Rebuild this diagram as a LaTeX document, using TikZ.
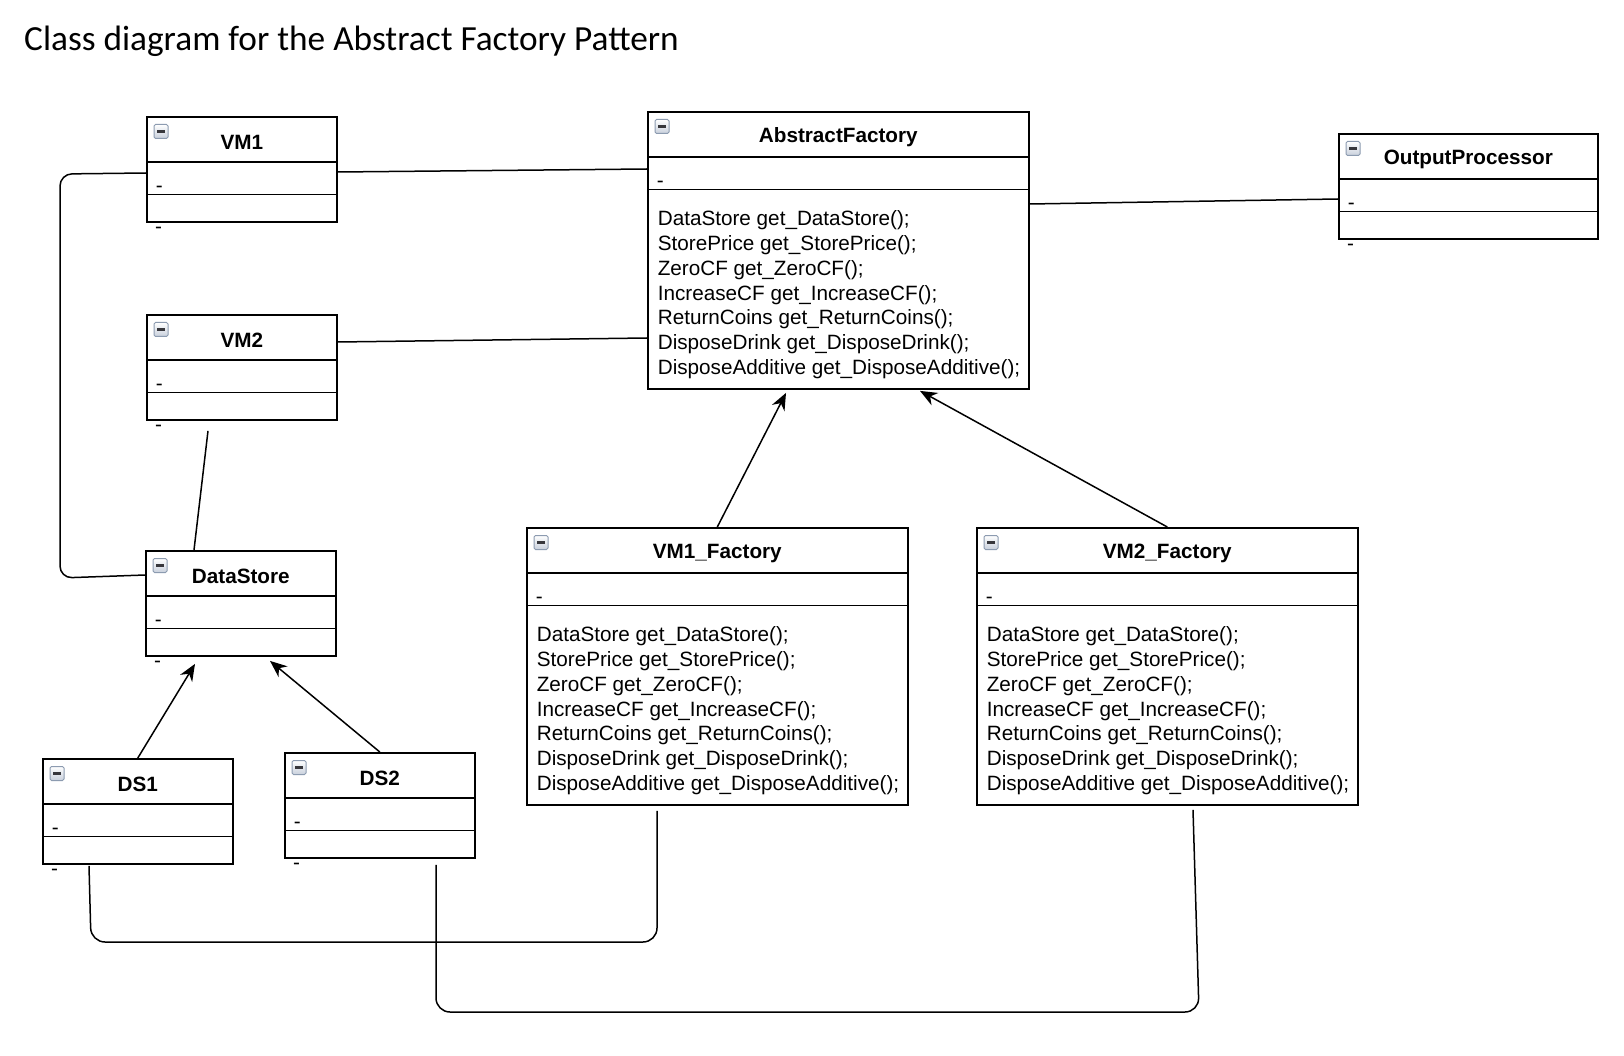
\documentclass[tikz,border=0pt]{standalone}
\usepackage{fontspec}
\setmainfont{Liberation Sans}
\newfontfamily\titlefont{Carlito}
\usepackage{tikz}
\usetikzlibrary{shapes, arrows.meta, positioning, calc}
\definecolor{iconedge}{RGB}{140,155,176}
\definecolor{iconfill}{RGB}{200,208,220}
\definecolor{iconbar}{RGB}{55,55,60}
\newcommand{\clshead}[2]{\parbox[c][43.5pt][c]{#1}{\centering\vspace*{6pt}\textbf{#2}}}
\newcommand{\clsattr}[1]{\parbox[c][29.5pt][b]{#1}{\hspace*{9pt}-\rule[-1.5pt]{0pt}{1pt}}}
\newcommand{\clsempty}[1]{\parbox[c][26pt][c]{#1}{}}
\newcommand{\clsops}[1]{\parbox[c][198pt][t]{381pt}{\raggedright\leftskip=10pt\vspace*{18pt}\strut #1}}
\newcommand{\factoryops}{DataStore get\_DataStore();\\StorePrice get\_StorePrice();\\ZeroCF get\_ZeroCF();\\IncreaseCF get\_IncreaseCF();\\ReturnCoins get\_ReturnCoins();\\DisposeDrink get\_DisposeDrink();\\DisposeAdditive get\_DisposeAdditive();}
\tikzstyle{umlclass} = [draw=black, line width=1.6pt, rectangle split, rectangle split parts=3, inner sep=0pt, anchor=north west, font=\fontsize{20.7}{24.8}\selectfont]
\tikzstyle{dashmark} = [inner sep=0pt, anchor=base west, font=\fontsize{20.7}{24.8}\selectfont]
\tikzstyle{assoc} = [line width=1.5pt, draw=black]
\tikzstyle{inherit} = [line width=1.5pt, draw=black, -{Stealth[length=17pt, width=14pt]}]
\tikzstyle{iconbox} = [draw=iconedge, line width=1pt, top color=white, bottom color=iconfill, rounded corners=1.5pt]
\tikzstyle{iconline} = [draw=iconbar, line width=2.5pt]
\newcommand{\collapseicon}[1]{%
	\draw[iconbox] ($(#1.north west)+(8,8.5)$) rectangle +(14,14);
	\draw[iconline] ($(#1.north west)+(11,15.5)$) -- +(8,0);}

\begin{document}
\begin{tikzpicture}[x=1pt, y=-1pt]
	\path[fill=white, use as bounding box] (0,0) rectangle (1624,1056);
	\node[anchor=base west, inner sep=0pt, font=\titlefont\fontsize{35.3}{40}\selectfont] (title) at (24,51) {Class diagram for the Abstract Factory Pattern};

	\node[umlclass] (vm1) at (146,116) {\clshead{190pt}{VM1}\nodepart{two}\clsattr{190pt}\nodepart{three}\clsempty{190pt}};
	\node[umlclass] (vm2) at (146,314) {\clshead{190pt}{VM2}\nodepart{two}\clsattr{190pt}\nodepart{three}\clsempty{190pt}};
	\node[umlclass] (ds) at (145,550) {\clshead{190pt}{DataStore}\nodepart{two}\clsattr{190pt}\nodepart{three}\clsempty{190pt}};
	\node[umlclass] (ds1) at (42,758) {\clshead{190pt}{DS1}\nodepart{two}\clsattr{190pt}\nodepart{three}\clsempty{190pt}};
	\node[umlclass] (ds2) at (284,752) {\clshead{190pt}{DS2}\nodepart{two}\clsattr{190pt}\nodepart{three}\clsempty{190pt}};
	\node[umlclass] (op) at (1338,133) {\clshead{259pt}{OutputProcessor}\nodepart{two}\clsattr{259pt}\nodepart{three}\clsempty{259pt}};
	\node[umlclass] (af) at (647,111) {\clshead{381pt}{AbstractFactory}\nodepart{two}\clsattr{381pt}\nodepart{three}\clsops{\factoryops}};
	\node[umlclass] (vm1f) at (526,527) {\clshead{381pt}{VM1\_Factory}\nodepart{two}\clsattr{381pt}\nodepart{three}\clsops{\factoryops}};
	\node[umlclass] (vm2f) at (976,527) {\clshead{381pt}{VM2\_Factory}\nodepart{two}\clsattr{381pt}\nodepart{three}\clsops{\factoryops}};

	\foreach \cls in {vm1, vm2, ds, ds1, ds2, op, af, vm1f, vm2f}
		{\collapseicon{\cls}}

	\node[dashmark] (vm1dash) at ($(vm1.south west)+(9,11)$) {-};
	\node[dashmark] (vm2dash) at ($(vm2.south west)+(9,11)$) {-};
	\node[dashmark] (dsdash) at ($(ds.south west)+(9,11)$) {-};
	\node[dashmark] (ds1dash) at ($(ds1.south west)+(9,11)$) {-};
	\node[dashmark] (ds2dash) at ($(ds2.south west)+(9,11)$) {-};
	\node[dashmark] (opdash) at ($(op.south west)+(9,11)$) {-};

	\draw[assoc] ($(vm1.north east)+(0,56)$) -- ($(af.north west)+(0,58)$);
	\draw[assoc] ($(vm2.north east)+(0,28)$) -- ($(af.north west)+(0,227)$);
	\draw[assoc] ($(af.north east)+(0,93)$) -- ($(op.north west)+(0,66)$);
	\draw[assoc, rounded corners=12pt] ($(vm1.north west)+(0,57)$) -- (60,174) -- (60,578) -- ($(ds.north west)+(0,25)$);
	\draw[assoc] ($(vm2.south west)+(62,10)$) -- ($(ds.north west)+(49,0)$);
	\draw[inherit] (ds1.north) -- ($(ds.south west)+(50,7)$);
	\draw[inherit] (ds2.north) -- ($(ds.south west)+(125,4)$);
	\draw[inherit] (vm1f.north) -- ($(af.south west)+(139,3)$);
	\draw[inherit] (vm2f.north) -- ($(af.south west)+(273,1)$);
	\draw[assoc, rounded corners=14pt] ($(ds1.south west)+(47,1)$) -- (91,942) -- (657,942) -- ($(vm1f.south west)+(131,5)$);
	\draw[assoc, rounded corners=14pt] ($(ds2.south west)+(152,6)$) -- (436,1012) -- (1199,1012) -- ($(vm2f.south west)+(217,4)$);
\end{tikzpicture}
\end{document}
